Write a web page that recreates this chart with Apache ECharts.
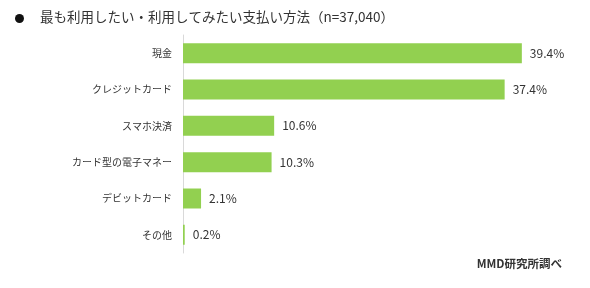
<!DOCTYPE html>
<html>
<head>
<meta charset="utf-8">
<script src="https://cdn.jsdelivr.net/npm/echarts@6/dist/echarts.min.js"></script>
<style>
  html, body { margin: 0; padding: 0; background: #fff; }
  #chart { width: 590px; height: 288px; }
</style>
</head>
<body>
<div id="chart"></div>
<script>
const categories = ['現金', 'クレジットカード', 'スマホ決済', 'カード型の電子マネー', 'デビットカード', 'その他'];
const shares = [39.4, 37.4, 10.6, 10.3, 2.1, 0.2];
const titleText = '最も利用したい・利用してみたい支払い方法（n=37,040）';
const sourceText = 'MMD研究所調べ';

const jp = '"Noto Sans CJK JP", "Noto Sans", sans-serif';
const chart = echarts.init(document.getElementById('chart'));

chart.setOption({
  animation: false,
  backgroundColor: '#fff',
  title: {
    text: titleText,
    left: 40,
    top: 10,
    padding: 0,
    textStyle: { fontFamily: jp, fontSize: 13.5, fontWeight: 'normal', color: '#333' }
  },
  graphic: [
    { type: 'circle', shape: { cx: 19.5, cy: 18.5, r: 4.5 }, style: { fill: '#111' } },
    {
      type: 'text', right: 28, top: 258,
      style: { text: sourceText, font: 'bold 11.5px ' + jp, fill: '#333' }
    }
  ],
  grid: { left: 183, right: 63, top: 35, height: 218 },
  xAxis: {
    type: 'value',
    min: 0,
    max: 40,
    show: false
  },
  yAxis: {
    type: 'category',
    data: categories,
    inverse: true,
    axisLine: { show: true, lineStyle: { color: '#d9d9d9', width: 1 } },
    axisTick: { show: false },
    axisLabel: { fontFamily: jp, fontSize: 10, color: '#333', margin: 11 }
  },
  series: [{
    type: 'bar',
    data: shares,
    barWidth: 20,
    itemStyle: { color: '#92d050' },
    label: {
      show: true,
      position: 'right',
      distance: 8,
      fontFamily: jp,
      fontSize: 12,
      color: '#333',
      formatter: p => p.value.toFixed(1) + '%'
    }
  }]
});
</script>
</body>
</html>
